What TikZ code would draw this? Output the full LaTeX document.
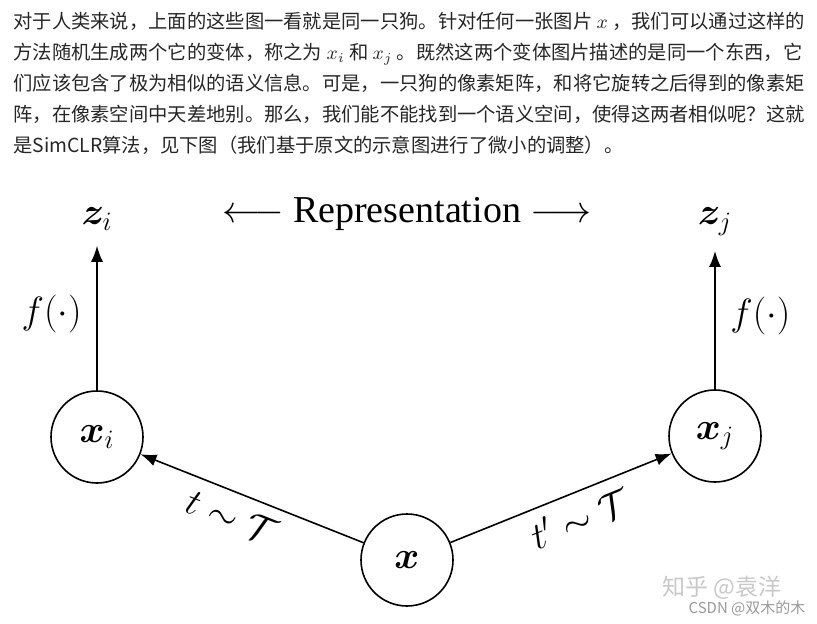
\RequirePackage{fix-cm}
\documentclass[tikz,border=0pt]{standalone}
\usepackage{amsmath,amssymb,bm}
\usepackage[no-math]{fontspec}
\setmainfont{Liberation Serif}
\newfontfamily\cjk{Noto Sans CJK SC}
\usetikzlibrary{arrows.meta,positioning}
\definecolor{wmgray}{RGB}{200,200,200}

\begin{document}
\begin{tikzpicture}[x=0.5pt,y=-0.5pt,
  txt/.style={font=\cjk\fontsize{9.65}{12}\selectfont,text=black!85,anchor=base west,inner sep=0pt},
  big/.style={font=\fontsize{19}{23}\selectfont},
  nd/.style={draw,circle,line width=0.8pt,minimum size=46pt,inner sep=0pt,big},
  ar/.style={-{Latex[length=8pt,width=6pt]},line width=0.8pt}]
\useasboundingbox (0,0) rectangle (817,624);
% paragraph above the figure
\node[txt] (l1) at (13,29) {对于人类来说，上面的这些图一看就是同一只狗。针对任何一张图片 $x$ ，我们可以通过这样的};
\node[txt] (l2) at ([yshift=-15.5pt]l1.base west) {方法随机生成两个它的变体，称之为 $x_i$ 和 $x_j$ 。既然这两个变体图片描述的是同一个东西，它};
\node[txt] (l3) at ([yshift=-15.5pt]l2.base west) {们应该包含了极为相似的语义信息。可是，一只狗的像素矩阵，和将它旋转之后得到的像素矩};
\node[txt] (l4) at ([yshift=-15.5pt]l3.base west) {阵，在像素空间中天差地别。那么，我们能不能找到一个语义空间，使得这两者相似呢？这就};
\node[txt] (l5) at ([yshift=-15.5pt]l4.base west) {是SimCLR算法，见下图（我们基于原文的示意图进行了微小的调整）。};
% figure
\node[nd] (x)  at (407,560) {$\bm{x}$};
\node[nd] (xi) at (97,437)  {$\bm{x}_i$};
\node[nd] (xj) at (715,436) {$\bm{x}_j$};
\node[big,anchor=base] (zi) at (97,225)  {$\bm{z}_i$};
\node[big,anchor=base] (zj) at (715,225) {$\bm{z}_j$};
\node[big,anchor=base] (rep) at (407,223) {$\longleftarrow$ Representation $\longrightarrow$};
\draw[ar,shorten >=4pt] (xi) -- node[big,left=4pt] {$f(\cdot)$} (xi |- zi.south);
\draw[ar,shorten >=4pt] (xj) -- node[big,right=4pt] {$f(\cdot)$} (xj |- zj.south);
\draw[ar] (x) -- node[pos=0.55,big,sloped,below=2pt] {$t\sim\mathcal{T}$} (xi);
\draw[ar] (x) -- node[pos=0.54,big,sloped,below=2pt] {$t'\sim\mathcal{T}$} (xj);
% watermarks
\node[font=\cjk\fontsize{11.5}{13}\selectfont,text=wmgray] (wm1) at (722,588) {知乎 @袁洋};
\node[font=\cjk\fontsize{7.5}{9}\selectfont,text=black!40] (wm2) at (747,608) {CSDN @双木的木};
\end{tikzpicture}
\end{document}
